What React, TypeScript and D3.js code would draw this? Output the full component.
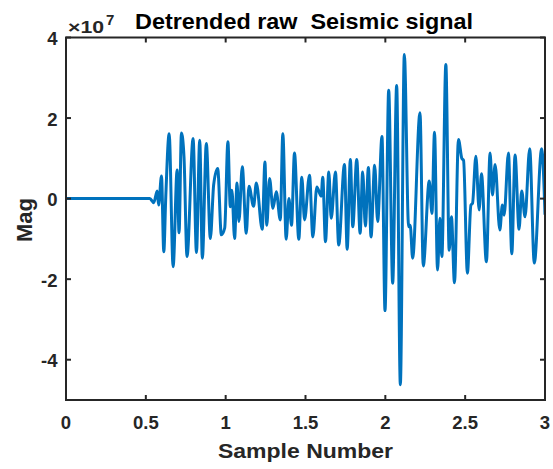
import * as d3 from 'd3';
import React from 'react';

// sample position (x) and detrended magnitude in units of 1e7 (read from the peaks/troughs)
const sampleT = [
  0, 0.525, 0.55, 0.571, 0.58, 0.598, 0.6125, 0.625, 0.646, 0.671, 0.696, 0.708, 0.723, 0.739, 0.758,
  0.796, 0.817, 0.8375, 0.854, 0.879, 0.904, 0.925, 0.95, 0.973, 0.994, 1.014, 1.029, 1.039, 1.056,
  1.071, 1.083, 1.104, 1.129, 1.146, 1.175, 1.192, 1.229, 1.246, 1.2575, 1.275, 1.296, 1.317, 1.342,
  1.358, 1.379, 1.396, 1.4125, 1.431, 1.458, 1.477, 1.494, 1.525, 1.546, 1.571, 1.598, 1.608, 1.625,
  1.646, 1.661, 1.6875, 1.708, 1.744, 1.761, 1.781, 1.796, 1.821, 1.842, 1.858, 1.875, 1.894, 1.9105,
  1.933, 1.952, 1.979, 1.998, 2.021, 2.046, 2.071, 2.094, 2.119, 2.146, 2.156, 2.171, 2.217, 2.2375,
  2.275, 2.292, 2.308, 2.327, 2.342, 2.354, 2.379, 2.4, 2.414, 2.433, 2.458, 2.479, 2.49, 2.514, 2.536,
  2.546, 2.567, 2.5875, 2.602, 2.633, 2.656, 2.671, 2.6875, 2.717, 2.733, 2.744, 2.771, 2.792, 2.8125,
  2.8375, 2.854, 2.875, 2.904, 2.933, 2.979, 3.0,
];
const magnitude = [
  0, 0, -0.1, 0.19, -0.16, 0.56, -1.32, 0.06, 1.61, -1.69, 0.71, -0.85, 1.63, 1.04, -1.44,
  1.49, -1.34, 1.45, -1.48, 1.37, -0.99, 0.35, 0.75, -0.9, -0.73, 1.41, -0.2, 0.21, -0.99,
  0.39, -0.57, 0.79, -0.86, 0.31, -0.19, 0.39, -0.76, 0.91, -0.66, 0.5, -0.24, 0.17, -0.53,
  1.61, -1.01, 0.0, -0.66, 1.13, -1.01, 0.53, -0.53, 0.58, -0.95, 0.29, 0.06, 0.53, -1.07,
  0.66, -0.49, 0.66, -1.15, 0.85, -1.26, 0.97, -0.7, 0.97, -0.86, 0.66, -0.68, 0.77, -0.95,
  0.83, -0.57, 1.54, -2.78, 2.69, -2.1, 2.81, -4.62, 3.58, -0.7, -0.66, -1.48, 2.13, -1.67,
  0.44, -0.37, 1.65, -1.77, -0.49, -1.44, 3.33, -1.28, -0.45, -2.09, 1.47, 1.0, 0.95, -1.85, -0.16,
  -0.12, 1.05, -0.28, 0.62, -1.57, 1.13, 0.09, 0.85, -0.78, -0.16, -0.41, 1.13, -1.37, 1.08,
  -0.76, 0.19, -0.45, 1.24, -1.6, 1.24, -0.4,
];
const xTicks = [0, 0.5, 1, 1.5, 2, 2.5, 3];
const yTicks = [-4, -2, 0, 2, 4];

const W = 553;
const H = 469;
const axisColor = '#262626';
const font = 'Liberation Sans, Arial, Helvetica, sans-serif';

export default function App() {
  const x = d3.scaleLinear().domain([0, 3]).range([66, 545]);
  const y = d3.scaleLinear().domain([-5, 4]).range([400, 37.5]);

  const pts: [number, number][] = sampleT.map((t, i) => [t, magnitude[i]]);
  const line = d3.line<[number, number]>()
    .x(d => x(d[0]))
    .y(d => y(d[1]))
    .curve(d3.curveMonotoneX);

  const x0 = x(0), x1 = x(3), y0 = y(-5), y1 = y(4);

  return (
    <svg width={W} height={H} fontFamily={font}
      style={{ position: 'fixed', left: 0, top: 0, display: 'block', background: '#fff' }}>
      <defs>
        <clipPath id="plotArea">
          <rect x={x0} y={y1} width={x1 - x0} height={y0 - y1} />
        </clipPath>
      </defs>
      <path d={line(pts) ?? ''} fill="none" stroke="#0072BD" strokeWidth={3}
        strokeLinejoin="round" clipPath="url(#plotArea)" />

      {/* box */}
      <rect x={x0} y={y1} width={x1 - x0} height={y0 - y1} fill="none" stroke={axisColor} strokeWidth={2} />

      {xTicks.map(t => (
        <g key={'x' + t}>
          <line x1={x(t)} x2={x(t)} y1={y0} y2={y0 - 5} stroke={axisColor} strokeWidth={2} />
          <line x1={x(t)} x2={x(t)} y1={y1} y2={y1 + 5} stroke={axisColor} strokeWidth={2} />
          <text x={x(t)} y={428.5} textAnchor="middle" fontSize={18.5} fontWeight="bold" fill={axisColor}>{t}</text>
        </g>
      ))}
      {yTicks.map(t => (
        <g key={'y' + t}>
          <line x1={x0} x2={x0 + 5} y1={y(t)} y2={y(t)} stroke={axisColor} strokeWidth={2} />
          <line x1={x1} x2={x1 - 5} y1={y(t)} y2={y(t)} stroke={axisColor} strokeWidth={2} />
          <text x={57.5} y={y(t) + 7.5} textAnchor="end" fontSize={18.5} fontWeight="bold" fill={axisColor}>{t}</text>
        </g>
      ))}

      <text x={68} y={33.3} fontSize={16.5} fontWeight="bold" fill={axisColor} textLength={36}
        lengthAdjust="spacingAndGlyphs">×10</text>
      <text x={106} y={25} fontSize={15} fontWeight="bold" fill={axisColor}>7</text>
      <text x={135} y={29} fontSize={21.5} fontWeight="bold" fill="#000" textLength={338}
        lengthAdjust="spacingAndGlyphs" style={{ whiteSpace: 'pre' }}>
        Detrended raw  Seismic signal
      </text>
      <text x={218} y={458} fontSize={21} fontWeight="bold" fill={axisColor} textLength={175}
        lengthAdjust="spacingAndGlyphs">
        Sample Number
      </text>
      <text transform={`translate(31.5,220) rotate(-90)`} textAnchor="middle" fontSize={22}
        fontWeight="bold" fill={axisColor}>Mag</text>
    </svg>
  );
}
